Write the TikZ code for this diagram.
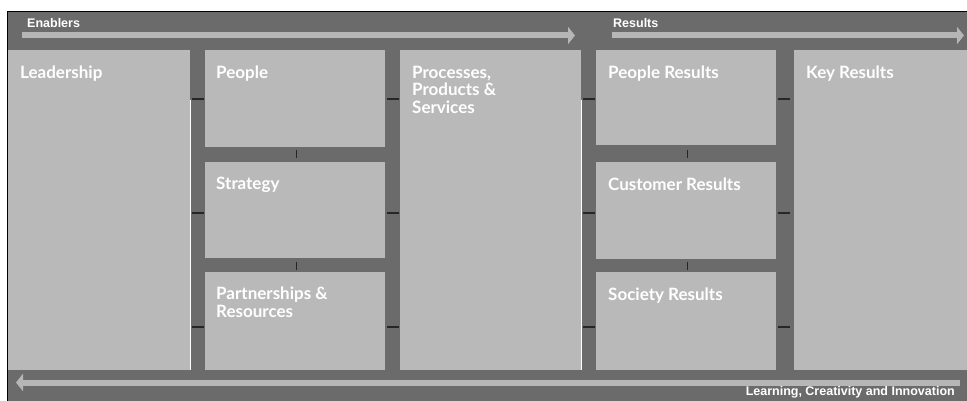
\documentclass[tikz,border=0pt]{standalone}
\usepackage{fontspec}
\setmainfont{Lato}
\newfontfamily\barfont{Liberation Sans}
\usetikzlibrary{arrows.meta}
\definecolor{frame}{HTML}{6B6B6B}
\definecolor{panel}{HTML}{B9B9B9}
\definecolor{bar}{HTML}{B6B6B6}

\begin{document}
\begin{tikzpicture}[x=1pt,y=-1pt,
  box/.style={fill=panel},
  title/.style={anchor=north west,text=white,align=left,inner sep=0pt,
    font=\bfseries\fontsize{17}{17.5}\selectfont},
  flow/.style={draw=bar,line width=6pt,-{Triangle[width=17pt,length=7pt]}},
  tag/.style={text=white,inner sep=0pt,font=\barfont\bfseries\fontsize{12.5}{14}\selectfont},
  tick/.style={line width=1.3pt,black!85},
  glint/.style={white,line width=0.8pt}]
\useasboundingbox (0,0) rectangle (967,401);

\fill[frame] (7,12) rectangle (967,401);
\draw[black,line width=1pt] (7,401)--(7,12)--(967,12);

\fill[box] (8,50) rectangle (190,370);
\fill[box] (205,50) rectangle (385,147);
\fill[box] (205,162) rectangle (385,258);
\fill[box] (205,272) rectangle (385,370);
\fill[box] (400,50) rectangle (581,370);
\fill[box] (596,50) rectangle (776,145);
\fill[box] (596,162) rectangle (776,259);
\fill[box] (596,272) rectangle (776,370);
\fill[box] (794,50) rectangle (967,370);
\draw[glint] (190.5,100)--(190.5,370);
\draw[glint] (581.5,100)--(581.5,370);

\coordinate (en-a) at (22,35.5);
\coordinate (en-b) at (575,35.5);
\coordinate (re-a) at (612,35.5);
\coordinate (re-b) at (964,35.5);
\coordinate (li-a) at (960,382.5);
\coordinate (li-b) at (16,382.5);
\draw[flow] (en-a)--(en-b);
\draw[flow] (re-a)--(re-b);
\draw[flow] (li-a)--(li-b);

\node[tag,anchor=south west] (enablers) at (27,28) {Enablers};
\node[tag,anchor=south west] (results) at (613,28) {Results};
\node[tag,anchor=south east] (learning) at (955,398) {Learning, Creativity and Innovation};

\node[title] (lead) at (20,66) {Leadership};
\node[title] (peop) at (216,66) {People};
\node[title] (strat) at (216,177) {Strategy};
\node[title] (part) at (216,287) {Partnerships \&\\Resources};
\node[title] (proc) at (412,66) {Processes,\\Products \&\\Services};
\node[title] (pres) at (608,66) {People Results};
\node[title] (cres) at (608,178) {Customer Results};
\node[title] (sres) at (608,288) {Society Results};
\node[title] (kres) at (806,66) {Key Results};

\foreach \x in {192,387,583,778}
  \foreach \y in {99,213,327}
    \draw[tick] (\x,\y)--(\x+12,\y);
\foreach \x in {296,687}
  \foreach \y in {150,262}
    \draw[tick,line width=1pt] (\x,\y)--(\x,\y+8);

\end{tikzpicture}
\end{document}
